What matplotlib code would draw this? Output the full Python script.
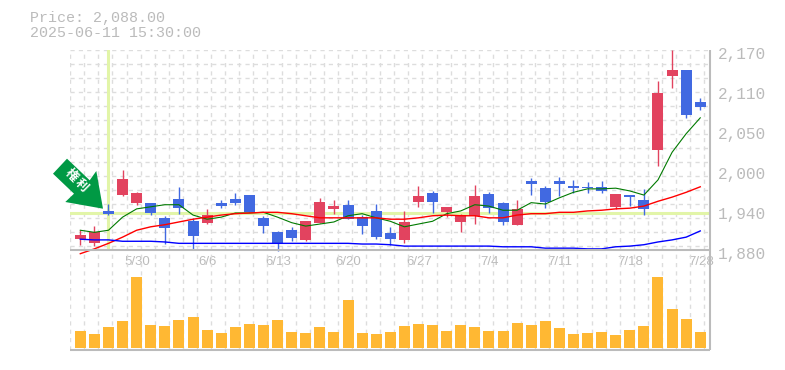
"""
Daily candle chart with moving averages and a volume panel.
"""
import matplotlib
matplotlib.use("Agg")
from matplotlib import pyplot as plt
from matplotlib.patches import Polygon
from matplotlib.transforms import blended_transform_factory
import numpy as np

plt.rcParams['font.family'] = ['Liberation Mono', 'Noto Sans CJK JP', 'DejaVu Sans']

opens = [1902, 1896, 1943, 1966, 1955, 1955, 1933, 1960, 1928, 1926, 1955, 1960, 1966, 1933, 1912,
         1915, 1901, 1926, 1946, 1952, 1934, 1943, 1911, 1901, 1956, 1969, 1941, 1927, 1936, 1968,
         1955, 1923, 1986, 1976, 1986, 1979, 1978, 1978, 1949, 1966, 1959, 2031, 2139, 2147, 2101]
highs = [1915, 1921, 1953, 2002, 1970, 1955, 1936, 1978, 1933, 1946, 1959, 1969, 1966, 1936, 1914,
         1920, 1928, 1962, 1959, 1959, 1937, 1953, 1920, 1943, 1979, 1972, 1949, 1939, 1981, 1970,
         1956, 1959, 1991, 1979, 1992, 1988, 1985, 1986, 1968, 1966, 1975, 2131, 2176, 2147, 2107]
lows = [1894, 1892, 1937, 1965, 1952, 1937, 1895, 1939, 1888, 1924, 1947, 1952, 1941, 1911, 1885,
        1899, 1899, 1926, 1939, 1931, 1910, 1902, 1894, 1896, 1949, 1940, 1934, 1912, 1924, 1940,
        1923, 1923, 1966, 1947, 1965, 1969, 1969, 1969, 1946, 1950, 1937, 2008, 2121, 2078, 2089]
closes = [1908, 1912, 1939, 1989, 1969, 1940, 1918, 1947, 1907, 1937, 1950, 1955, 1941, 1921, 1896,
          1904, 1928, 1956, 1950, 1931, 1921, 1905, 1902, 1927, 1965, 1956, 1949, 1937, 1965, 1947,
          1927, 1946, 1982, 1956, 1982, 1976, 1976, 1972, 1968, 1963, 1946, 2114, 2147, 2082, 2094]

ma_short = [1915, 1912, 1915, 1934, 1946, 1949, 1952, 1952, 1937, 1931, 1934, 1940, 1940, 1941, 1934,
            1926, 1921, 1924, 1927, 1936, 1939, 1933, 1928, 1920, 1924, 1928, 1939, 1943, 1952, 1950,
            1944, 1944, 1955, 1953, 1962, 1970, 1975, 1975, 1976, 1972, 1966, 1988, 2028, 2055, 2078]
ma_mid = [1881, 1888, 1896, 1905, 1915, 1920, 1923, 1927, 1931, 1934, 1937, 1939, 1940, 1941, 1941,
          1939, 1936, 1933, 1933, 1933, 1933, 1933, 1931, 1931, 1933, 1936, 1937, 1936, 1936, 1933,
          1933, 1937, 1939, 1939, 1941, 1941, 1943, 1944, 1946, 1947, 1950, 1957, 1963, 1970, 1978]
ma_long = [1902, 1901, 1901, 1899, 1899, 1899, 1898, 1896, 1896, 1896, 1896, 1896, 1896, 1896, 1896,
           1896, 1896, 1896, 1896, 1896, 1895, 1895, 1894, 1892, 1892, 1892, 1892, 1892, 1892, 1892,
           1891, 1891, 1891, 1889, 1889, 1889, 1888, 1888, 1891, 1892, 1894, 1898, 1901, 1905, 1914]

volumes = [51, 42, 63, 81, 213, 69, 66, 84, 93, 54, 45, 63, 72, 69, 84,
           48, 45, 63, 48, 144, 45, 42, 48, 66, 72, 69, 51, 69, 63, 51,
           51, 75, 69, 81, 60, 42, 45, 48, 39, 54, 66, 213, 117, 87, 48]

date_ticks = [4, 9, 14, 19, 24, 29, 34, 39, 44]
date_labels = ['5/30', '6/6', '6/13', '6/20', '6/27', '7/4', '7/11', '7/18', '7/28']
price_ticks = [1880.5, 1938.5, 1996.5, 2054.5, 2112.5, 2170.5]
price_labels = ['1,880', '1,940', '2,000', '2,050', '2,110', '2,170']

W, H = 785, 370
GRAY = '#bbbbbb'
GRID = '#dddddd'
UP = '#e2435f'
DOWN = '#4169e1'
LIME = '#e2f5a8'

# x in candle index: candle i sits at 80.3 + 14.09 i pixels
XLIM = ((70.3 - 80.3) / 14.09, (710.3 - 80.3) / 14.09)

fig = plt.figure(figsize=(W / 100, H / 100), dpi=100)
ax = fig.add_axes([70.3 / W, 1 - 250.3 / H, 640 / W, 200 / H])
vax = fig.add_axes([70.3 / W, 1 - 350.3 / H, 640 / W, 100 / H])
for a in (ax, vax):
    a.set_xlim(XLIM)
    a.set_xticks([])
    a.set_yticks([])
    a.patch.set_alpha(0)
    for s in a.spines.values():
        s.set_visible(False)

ax.set_ylim(1940 + (213 - 250.3) * 1.45, 1940 + (213 - 50.3) * 1.45)
vax.set_ylim(-6.9, 293.1)

# grid
xs = np.arange(-1, 45) + 0.285
dash = dict(color=GRID, lw=1, dashes=(3, 3), zorder=1)
for gx in xs:
    ax.plot([gx, gx], [0, 1], transform=ax.get_xaxis_transform(), **dash)
    vax.plot([gx, gx], [0, 1], transform=vax.get_xaxis_transform(), **dash)
for k in range(15):
    yy = 1 - k * 14 / 200
    ax.plot([0, 1], [yy, yy], transform=ax.transAxes, **dash)

# price highlight
ax.axhline(1940, color=LIME, lw=2.2, zorder=2)
ax.plot([2, 2], [0.01, 1], color=LIME, lw=2.2, zorder=2, transform=ax.get_xaxis_transform())

# candles
x = np.arange(len(opens))
for i in x:
    c = UP if closes[i] >= opens[i] else DOWN
    ax.vlines(i, lows[i], highs[i], color=c, lw=1, zorder=3, clip_on=False)
    ax.bar(i, abs(closes[i] - opens[i]), bottom=min(opens[i], closes[i]), width=11 / 14.09, color=c, zorder=4)

ax.plot(x, ma_short, color='#007a00', lw=0.8, zorder=5, clip_on=False)
ax.plot(x, ma_mid, color='#ff0000', lw=1, zorder=5, clip_on=False)
ax.plot(x, ma_long, color='#0000ff', lw=1, zorder=5, clip_on=False)

vax.bar(x, volumes, width=11 / 14.09, color='#ffb833', zorder=3)

# frame
line = dict(color=GRAY, lw=1.5, clip_on=False, zorder=6, solid_capstyle='butt')
ax.plot([0, 1], [0, 0], transform=ax.transAxes, **line)
vax.plot([0, 1], [0, 0], transform=vax.transAxes, **line)
fig.add_artist(plt.Line2D([710.3 / W] * 2, [1 - 350.3 / H, 1 - 50 / H], **line))

date_y = ax.get_ylim()[0] - 11.5 * 1.45
for t, s in zip(date_ticks, date_labels):
    ax.text(t + 0.05, date_y, s, ha='center', va='center', color=GRAY, fontsize=9.5,
            fontfamily='Liberation Sans', zorder=7, clip_on=False)
label_tr = blended_transform_factory(fig.transFigure, ax.transData)
for p, s in zip(price_ticks, price_labels):
    ax.text(718 / W, p, s, color=GRAY, fontsize=11.6, va='center', ha='left', clip_on=False, transform=label_tr)

fig.text(30 / W, 1 - 18 / H, 'Price: 2,088.00', color=GRAY, fontsize=10.8, va='center', ha='left')
fig.text(30 / W, 1 - 33 / H, '2025-06-11 15:30:00', color=GRAY, fontsize=10.8, va='center', ha='left')

# marker arrow
arrow_px = [(53, 173.7), (67, 158.7), (89.7, 180.3), (96.3, 171), (103, 208.7), (65.3, 202), (74, 193.7)]
fig.add_artist(Polygon([(a / W, 1 - b / H) for a, b in arrow_px], closed=True, fc='#009944', ec='none',
                       transform=fig.transFigure, zorder=8))
fig.text(71 / W, 1 - 175 / H, '権', color='white', fontsize=9, rotation=-45, ha='center', va='center',
         fontfamily='Noto Sans CJK JP', fontweight='bold', zorder=9)
fig.text(81 / W, 1 - 185 / H, '利', color='white', fontsize=9, rotation=-45, ha='center', va='center',
         fontfamily='Noto Sans CJK JP', fontweight='bold', zorder=9)

fig.savefig('out.png', dpi=100)
